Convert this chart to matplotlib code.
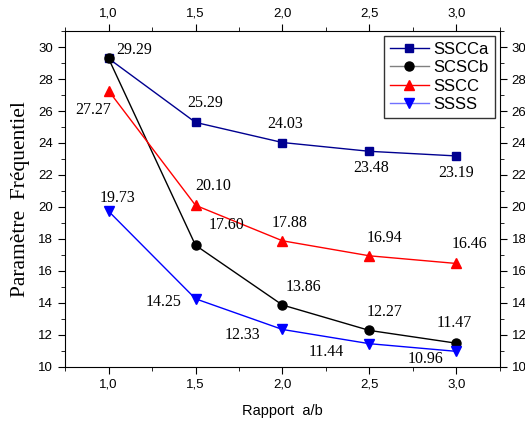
import numpy as np
import matplotlib.pyplot as plt
from matplotlib.ticker import MultipleLocator

rapport = [1.0, 1.5, 2.0, 2.5, 3.0]
sscca = [29.29, 25.29, 24.03, 23.48, 23.19]
scscb = [29.29, 17.60, 13.86, 12.27, 11.47]
sscc = [27.27, 20.10, 17.88, 16.94, 16.46]
ssss = [19.73, 14.25, 12.33, 11.44, 10.96]
tick_labels = ['1,0', '1,5', '2,0', '2,5', '3,0']

# label offsets (pixels) for each value
off_sscca = [(8, 8), (10, 19), (3, 19), (2, -17), (0, -17)]
off_scscb = [None, (31, 20), (21, 18), (15, 18), (-2, 20)]
off_sscc = [(-15, -19), (18, 19), (7, 18), (15, 18), (13, 19)]
off_ssss = [(9, 13), (-32, -3), (-40, -6), (-43, -8), (-31, -8)]

plt.rcParams['font.family'] = ['Liberation Sans', 'DejaVu Sans']
fig = plt.figure(figsize=(5.25, 4.21), dpi=100)
ax = fig.add_axes([0.124, 0.129, 0.828, 0.797])

ax.plot(rapport, sscca, '-s', color='#000090', lw=1, ms=6, label='SSCCa')
ax.plot(rapport, scscb, '-o', color='black', lw=1, ms=6.5, label='SCSCb')
ax.plot(rapport, sscc, '-^', color='red', lw=1, ms=7, label='SSCC')
ax.plot(rapport, ssss, '-v', color='blue', lw=1, ms=7, label='SSSS')

for vals, offs in [(sscca, off_sscca), (scscb, off_scscb), (sscc, off_sscc), (ssss, off_ssss)]:
    for x, y, o in zip(rapport, vals, offs):
        if o is None:
            continue
        ha = 'left' if o == (8, 8) else 'center'
        ax.annotate('%.2f' % y, (x, y), xytext=o, textcoords='offset pixels',
                    ha=ha, va='center', fontsize=11.5, family='Liberation Serif')

ax.set_xlim(0.75, 3.25)
ax.set_ylim(10, 31)
ax.set_xticks(rapport)
ax.set_xticklabels(tick_labels)
ax.xaxis.set_minor_locator(MultipleLocator(0.25))
ax.yaxis.set_major_locator(MultipleLocator(2))
ax.yaxis.set_minor_locator(MultipleLocator(1))
ax.tick_params(which='both', direction='out', top=True, right=True,
               labeltop=True, labelright=True, labelsize=9.5)
ax.tick_params(which='major', length=5)
ax.tick_params(which='minor', length=3)

ax.set_xlabel('Rapport  a/b', fontsize=10.5, labelpad=10)
ax.set_ylabel('Paramètre  Fréquentiel', fontsize=15.5, family='Liberation Serif', labelpad=6)

leg = ax.legend(loc='upper right', fontsize=12, frameon=True, fancybox=False,
                edgecolor='black', handlelength=2.3, borderaxespad=0.3,
                labelspacing=0.2, handletextpad=0.3, borderpad=0.35)
leg.get_frame().set_linewidth(1)
leg_lines = leg.get_lines()
leg_lines[1].set_color('gray')
leg_lines[1].set_markerfacecolor('black')
leg_lines[1].set_markeredgecolor('black')
leg_lines[3].set_color('#7070ff')
leg_lines[3].set_markerfacecolor('blue')
leg_lines[3].set_markeredgecolor('blue')

fig.savefig('out.png', dpi=100)
